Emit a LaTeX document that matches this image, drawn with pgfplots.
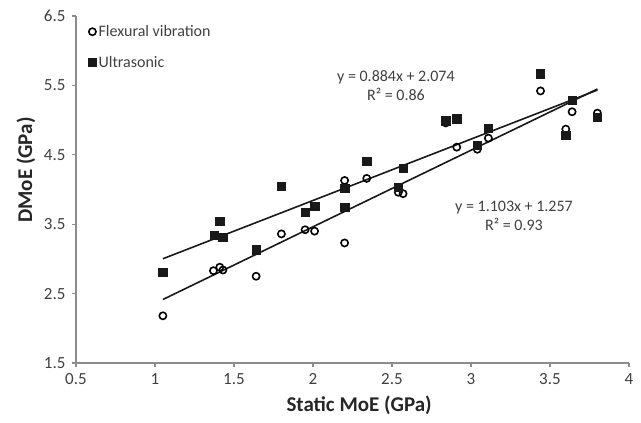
\documentclass[border=0pt]{standalone}
\usepackage{fontspec}
\setmainfont{Carlito}
\usepackage{pgfplots}
\pgfplotsset{compat=1.18}
\definecolor{axgray}{HTML}{8C8C8C}
\definecolor{txt}{HTML}{404040}
\definecolor{lbl}{HTML}{262626}
\begin{document}
\begin{tikzpicture}
\begin{axis}[name=ax,
  scale only axis, width=553pt, height=347pt,
  xmin=0.5, xmax=4, ymin=1.5, ymax=6.5,
  xtick={0.5,1,1.5,2,2.5,3,3.5,4},
  ytick={1.5,2.5,3.5,4.5,5.5,6.5},
  axis x line*=bottom, axis y line*=left,
  axis line style={axgray, line width=1.3pt, -},
  tick style={axgray, line width=1.3pt},
  tick align=outside, major tick length=4pt,
  /pgf/number format/assume math mode=true,
  ticklabel style={font=\fontsize{17}{20}\selectfont, text=txt},
  xticklabel style={yshift=-3pt},
  yticklabel style={xshift=-3pt},
  xlabel={\bfseries Static MoE (GPa)},
  ylabel={\bfseries DMoE (GPa)},
  every axis x label/.style={at={(axis description cs:0.512,-0.121)}, anchor=center, font=\fontsize{21}{24}\selectfont, text=lbl},
  every axis y label/.style={at={(axis description cs:-0.0904,0.556)}, anchor=center, rotate=90, font=\fontsize{21}{24}\selectfont, text=lbl},
  clip=false,
  legend style={draw=none, fill=none, at={(axis cs:0.576,6.053)}, anchor=west,
    font=\fontsize{16}{19}\selectfont, text=txt, row sep=14pt, inner sep=0pt},
  legend cell align=left,
  legend image code/.code={\draw[mark repeat=2,mark phase=2,#1] plot coordinates {(0cm,0cm)(0.12cm,0cm)(0.24cm,0cm)};},
]
\addplot[only marks, mark=o, mark size=3.6pt, mark options={line width=1.6pt, draw=black, fill=white}] coordinates {
(1.05,2.18) (1.37,2.83) (1.41,2.88) (1.43,2.84) (1.64,2.75) (1.80,3.36) (1.95,3.42)
(2.01,3.40) (2.20,4.13) (2.20,3.23) (2.34,4.16) (2.54,3.96) (2.57,3.94) (2.84,4.96)
(2.91,4.61) (3.04,4.58) (3.11,4.74) (3.44,5.42) (3.60,4.87) (3.64,5.12) (3.80,5.10)
};
\addlegendentry{Flexural vibration}
\addplot[only marks, mark=square*, mark size=4.2pt, mark options={line width=0.5pt, draw=black!90, fill=black!90}] coordinates {
(1.05,2.81) (1.375,3.34) (1.41,3.54) (1.43,3.31) (1.64,3.13) (1.80,4.05) (1.95,3.67)
(2.01,3.76) (2.20,4.02) (2.20,3.74) (2.34,4.41) (2.54,4.03) (2.57,4.31) (2.84,4.99)
(2.91,5.02) (3.04,4.64) (3.11,4.88) (3.44,5.67) (3.60,4.78) (3.64,5.29) (3.80,5.04)
};
\addlegendentry{Ultrasonic}
\addplot[black!90, line width=1.6pt, forget plot] coordinates {(1.05,2.415) (3.80,5.448)};
\addplot[black!90, line width=1.6pt, forget plot] coordinates {(1.05,3.002) (3.80,5.433)};
\node[align=center, text=txt, font=\fontsize{16}{19}\selectfont] at (axis cs:2.525,5.49) {y = 0.884x + 2.074\\R² = 0.86};
\node[align=center, text=txt, font=\fontsize{16}{19}\selectfont] at (axis cs:3.272,3.62) {y = 1.103x + 1.257\\R² = 0.93};
\end{axis}
\pgfresetboundingbox
\path (ax.south west) ++(-76pt,-60pt) rectangle ++(641pt,423pt);
\end{tikzpicture}
\end{document}
